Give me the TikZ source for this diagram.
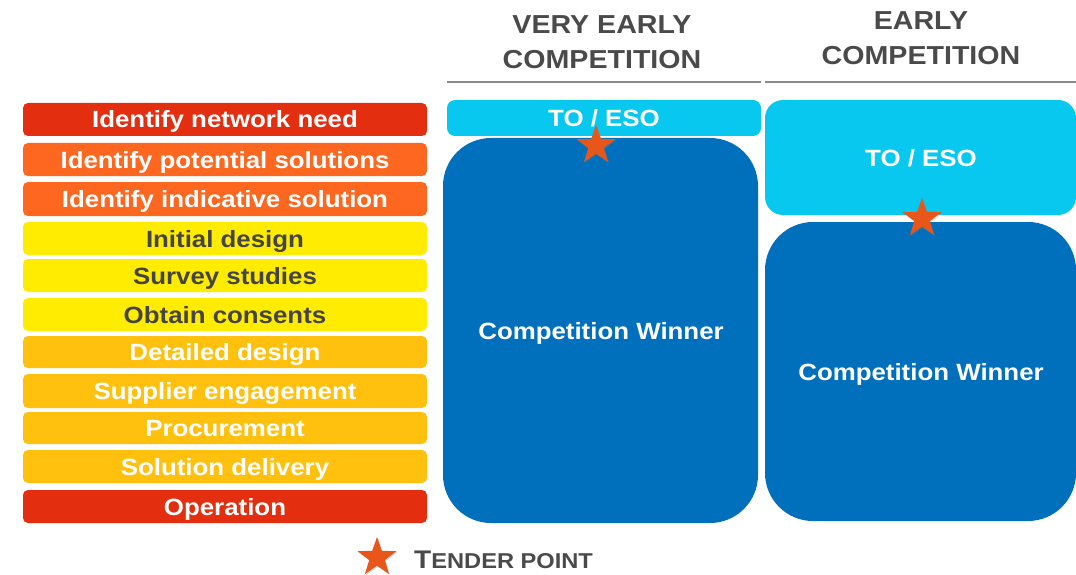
\documentclass[tikz,border=0pt]{standalone}
\usepackage{fontspec}
\setmainfont{Liberation Sans}[FakeStretch=1.1]
\usetikzlibrary{shapes.geometric,shadows}
\definecolor{cRed}{HTML}{E42E10}
\definecolor{cOrange}{HTML}{FE6720}
\definecolor{cYellow}{HTML}{FFEC00}
\definecolor{cAmber}{HTML}{FFC10E}
\definecolor{cDark}{HTML}{444444}
\definecolor{cCyan}{HTML}{08C8F0}
\definecolor{cBlue}{HTML}{0070BC}
\definecolor{cStar}{HTML}{E8561A}
\definecolor{cHead}{HTML}{4A4A4A}
\definecolor{cLine}{HTML}{8A8A8A}
\tikzset{
  bar/.style={rounded corners=5pt, minimum width=404pt, inner sep=0pt, text height=17pt, text depth=0pt, font=\fontsize{23.5}{26}\selectfont\bfseries, text=white},
  ybar/.style={bar, fill=cYellow, text=cDark},
  head/.style={align=center, font=\fontsize{26}{35}\selectfont\bfseries, text=cHead},
  panelbox/.style={inner sep=0pt},
  paneltext/.style={inner sep=0pt, text height=17pt, text depth=0pt, text=white, font=\fontsize{23.5}{26}\selectfont\bfseries},
  tstar/.style={star, star points=5, star point ratio=2.5, fill=cStar, minimum size=41pt, inner sep=0pt, drop shadow={opacity=0.3, shadow xshift=1pt, shadow yshift=-1pt}},
}
\begin{document}
\begin{tikzpicture}[x=1pt,y=-1pt]
\useasboundingbox (0,0) rectangle (1076,575);
% left bars
\node[bar, fill=cRed,    minimum height=33pt] (b1)  at (225,119.5) {Identify network need};
\node[bar, fill=cOrange, minimum height=33pt] (b2)  at (225,159.5) {Identify potential solutions};
\node[bar, fill=cOrange, minimum height=34pt] (b3)  at (225,199) {Identify indicative solution};
\node[ybar,              minimum height=33pt] (b4)  at (225,238.5) {Initial design};
\node[ybar,              minimum height=33pt] (b5)  at (225,275.5) {Survey studies};
\node[ybar,              minimum height=33pt] (b6)  at (225,314.5) {Obtain consents};
\node[bar, fill=cAmber,  minimum height=32pt] (b7)  at (225,352) {Detailed design};
\node[bar, fill=cAmber,  minimum height=34pt] (b8)  at (225,391) {Supplier engagement};
\node[bar, fill=cAmber,  minimum height=32pt] (b9)  at (225,428) {Procurement};
\node[bar, fill=cAmber,  minimum height=33pt] (b10) at (225,466.5) {Solution delivery};
\node[bar, fill=cRed,    minimum height=33pt] (b11) at (225,506.5) {Operation};
% headers
\node[head] (h1) at (602,42) {VERY EARLY\\COMPETITION};
\node[head] (h2) at (921,38) {EARLY\\COMPETITION};
\coordinate (l1a) at (447,82); \coordinate (l1b) at (761,82);
\coordinate (l2a) at (765,82); \coordinate (l2b) at (1076,82);
\draw[cLine, line width=1.3pt] (l1a) -- (l1b);
\draw[cLine, line width=1.3pt] (l2a) -- (l2b);
% very early panels
\node[panelbox, fill=cCyan, rounded corners=8pt, minimum width=314pt, minimum height=36pt] (to1) at (604,118) {};
\node[panelbox, fill=cBlue, rounded corners=48pt, minimum width=315pt, minimum height=385pt] (cw1) at (600.5,330.5) {};
\node[paneltext] (t1) at (604,118) {TO / ESO};
\node[paneltext] (w1) at (601,331) {Competition Winner};
% early panels
\node[panelbox, fill=cCyan, rounded corners=18pt, minimum width=311pt, minimum height=115pt] (to2) at (920.5,157.5) {};
\node[panelbox, fill=cBlue, rounded corners=48pt, minimum width=311pt, minimum height=299pt] (cw2) at (920.5,371.5) {};
\node[paneltext] (t2) at (921,158) {TO / ESO};
\node[paneltext] (w2) at (921,372) {Competition Winner};
% tender stars
\node[tstar] (s1) at (596,145.5) {};
\node[tstar] (s2) at (922,218.5) {};
% legend
\node[tstar] (s3) at (377,557.5) {};
\node[anchor=base west, text=cHead, font=\bfseries, inner sep=0pt] (lg) at (414,568) {\fontsize{25.5}{26}\selectfont T\fontsize{21.5}{26}\selectfont ENDER POINT};
\end{tikzpicture}
\end{document}
